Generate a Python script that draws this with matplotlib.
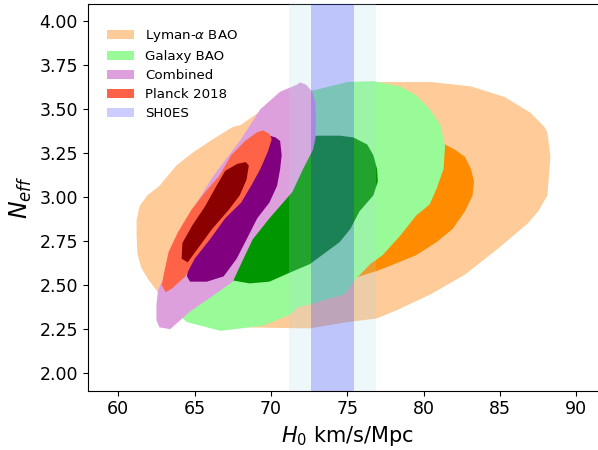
import matplotlib
matplotlib.use("Agg")
import matplotlib.pyplot as plt
from matplotlib.patches import Patch

# ---------------- data (contour outlines, H0 / Neff) ----------------
lya_outer_h0 = [61.2, 61.4, 61.9, 62.7, 63.8, 64.9, 66.2, 67.5, 68.0, 69.5, 71.0, 73.2, 75.8, 77.3,
                80.5, 83.1, 85.3, 87.0, 87.9, 88.1, 88.3, 88.1, 87.5, 86.8, 84.9, 82.7, 80.5, 78.3,
                76.9, 75.0, 72.6, 71.8, 68.4, 66.7, 64.7, 62.6, 61.95, 61.5, 61.25, 61.2]
lya_outer_neff = [2.87, 2.95, 3.01, 3.065, 3.18, 3.255, 3.33, 3.40, 3.41, 3.50, 3.58, 3.60, 3.635, 3.655,
                  3.655, 3.63, 3.57, 3.48, 3.40, 3.37, 3.23, 3.01, 2.92, 2.85, 2.71, 2.56, 2.45, 2.36,
                  2.31, 2.29, 2.255, 2.255, 2.26, 2.295, 2.36, 2.46, 2.535, 2.60, 2.68, 2.79]

lya_inner_h0 = [81.4, 82.05, 82.7, 83.1, 83.3, 83.2, 82.7, 81.9, 80.85, 79.5, 77.8, 76.9, 75.8, 74.85,
                73.9, 71.9, 70.3, 69.4, 69.8, 71.2, 73.9, 77.1, 79.8]
lya_inner_neff = [3.30, 3.27, 3.23, 3.16, 3.09, 3.01, 2.92, 2.82, 2.745, 2.67, 2.61, 2.58, 2.55, 2.52,
                  2.49, 2.52, 2.60, 2.76, 2.99, 3.16, 3.27, 3.33, 3.34]

gal_outer_h0 = [72.2, 72.9, 75.0, 76.7, 78.45, 79.5, 80.4, 81.1, 81.4, 81.3, 80.85, 80.4, 79.5, 78.45,
                77.3, 76.5, 75.5, 74.85, 72.55, 71.8, 71.2, 69.5, 66.7, 64.5, 63.7, 63.9, 64.8, 66.1,
                68.6, 69.9, 71.4]
gal_outer_neff = [3.60, 3.61, 3.655, 3.66, 3.63, 3.58, 3.50, 3.41, 3.29, 3.16, 3.05, 2.96, 2.895, 2.78,
                  2.67, 2.62, 2.53, 2.45, 2.39, 2.375, 2.33, 2.27, 2.24, 2.29, 2.35, 2.48, 2.705, 2.99,
                  3.27, 3.44, 3.56]

gal_inner_h0 = [73.0, 74.5, 75.4, 76.3, 76.7, 76.95, 77.0, 76.7, 76.5, 75.8, 75.2, 74.5, 72.55, 71.2,
                69.9, 68.6, 67.3, 67.0, 68.0, 69.15, 70.5, 71.8, 72.55]
gal_inner_neff = [3.35, 3.35, 3.34, 3.30, 3.24, 3.16, 3.09, 3.01, 2.99, 2.92, 2.82, 2.745, 2.62, 2.57,
                  2.52, 2.51, 2.53, 2.59, 2.76, 2.93, 3.10, 3.27, 3.33]

comb_outer_h0 = [71.9, 72.3, 72.7, 72.9, 72.95, 72.9, 72.75, 72.1, 71.4, 71.0, 69.9, 68.8, 68.2, 67.5,
                 66.2, 64.7, 63.4, 62.7, 62.5, 62.5, 62.6, 62.9, 63.8, 65.0, 66.3, 68.0, 69.3, 70.6, 71.7]
comb_outer_neff = [3.653, 3.64, 3.60, 3.54, 3.44, 3.33, 3.27, 3.16, 3.03, 2.99, 2.88, 2.76, 2.65, 2.52,
                   2.44, 2.35, 2.25, 2.26, 2.30, 2.39, 2.47, 2.53, 2.72, 2.95, 3.13, 3.325, 3.50, 3.60, 3.64]

comb_inner_h0 = [69.9, 70.3, 70.6, 70.7, 70.6, 70.4, 69.9, 69.1, 68.4, 67.75, 66.9, 65.8, 64.7, 64.5,
                 64.7, 66.0, 67.45, 68.75, 69.4]
comb_inner_neff = [3.35, 3.34, 3.32, 3.24, 3.16, 3.065, 2.97, 2.88, 2.76, 2.65, 2.55, 2.52, 2.52, 2.55,
                   2.705, 2.905, 3.10, 3.27, 3.34]

planck_outer_h0 = [69.5, 69.9, 70.05, 69.8, 69.3, 68.7, 68.05, 67.0, 66.0, 65.0, 64.4, 63.5, 63.1, 62.85,
                   63.0, 63.3, 63.9, 64.8, 65.7, 66.6, 67.4, 68.3, 69.1]
planck_outer_neff = [3.38, 3.36, 3.33, 3.26, 3.16, 3.065, 2.97, 2.88, 2.76, 2.65, 2.55, 2.48, 2.46, 2.50,
                     2.57, 2.69, 2.80, 2.93, 3.03, 3.12, 3.24, 3.32, 3.37]

planck_inner_h0 = [68.35, 68.55, 68.4, 67.95, 67.25, 66.15, 65.05, 64.55, 64.15, 64.2, 64.85, 65.7, 66.4,
                   67.0, 67.8]
planck_inner_neff = [3.20, 3.18, 3.10, 3.01, 2.93, 2.82, 2.69, 2.63, 2.65, 2.74, 2.84, 2.95, 3.06, 3.15, 3.19]

shoes_h0 = 74.03
shoes_sigma = 1.42

labels = ["Lyman-$\\alpha$ BAO", "Galaxy BAO", "Combined", "Planck 2018", "SH0ES"]
xticks = [60, 65, 70, 75, 80, 85, 90]
yticks = [2.00, 2.25, 2.50, 2.75, 3.00, 3.25, 3.50, 3.75, 4.00]

# ---------------- styles ----------------
c_lya = ("#fecb99", "#ff8c00")
c_gal = ("#98fb98", "#009600")
c_comb = ("#dda0dd", "#800080")
c_planck = ("#ff6347", "#8b0000")

fig = plt.figure(figsize=(5.98, 4.5), dpi=100)
ax = fig.add_axes([0.1467, 0.1318, 0.8682, 0.8598])

ax.fill(lya_outer_h0, lya_outer_neff, color=c_lya[0], lw=0, zorder=1)
ax.fill(lya_inner_h0, lya_inner_neff, color=c_lya[1], lw=0, zorder=2)
ax.fill(gal_outer_h0, gal_outer_neff, color=c_gal[0], lw=0, zorder=3)
ax.fill(gal_inner_h0, gal_inner_neff, color=c_gal[1], lw=0, zorder=4)
ax.fill(comb_outer_h0, comb_outer_neff, color=c_comb[0], lw=0, zorder=5)
ax.fill(comb_inner_h0, comb_inner_neff, color=c_comb[1], lw=0, zorder=6)
ax.fill(planck_outer_h0, planck_outer_neff, color=c_planck[0], lw=0, zorder=7)
ax.fill(planck_inner_h0, planck_inner_neff, color=c_planck[1], lw=0, zorder=8)

ax.axvspan(shoes_h0 - 2 * shoes_sigma, shoes_h0 + 2 * shoes_sigma, color="lightblue", alpha=0.2, lw=0, zorder=9)
ax.axvspan(shoes_h0 - shoes_sigma, shoes_h0 + shoes_sigma, color="blue", alpha=0.2, lw=0, zorder=10)

ax.set_xlim(58, 92)
ax.set_ylim(1.9, 4.1)
ax.set_xticks(xticks)
ax.set_yticks(yticks)
ax.set_yticklabels([f"{v:.2f}" for v in yticks])
ax.tick_params(labelsize=12.5)
ax.set_xlabel("$H_0$ km/s/Mpc", fontsize=15)
ax.set_ylabel("$N_{eff}$", fontsize=17)

handles = [Patch(facecolor=c_lya[0]), Patch(facecolor=c_gal[0]), Patch(facecolor=c_comb[0]),
           Patch(facecolor=c_planck[0]), Patch(facecolor="blue", alpha=0.2)]
ax.legend(handles, labels, loc="upper left", bbox_to_anchor=(0.0366, 0.937), borderaxespad=0,
          borderpad=0, frameon=False, fontsize=9.6, labelspacing=0.45, handlelength=2.06,
          handletextpad=0.8)

fig.savefig("out.png", dpi=100)
